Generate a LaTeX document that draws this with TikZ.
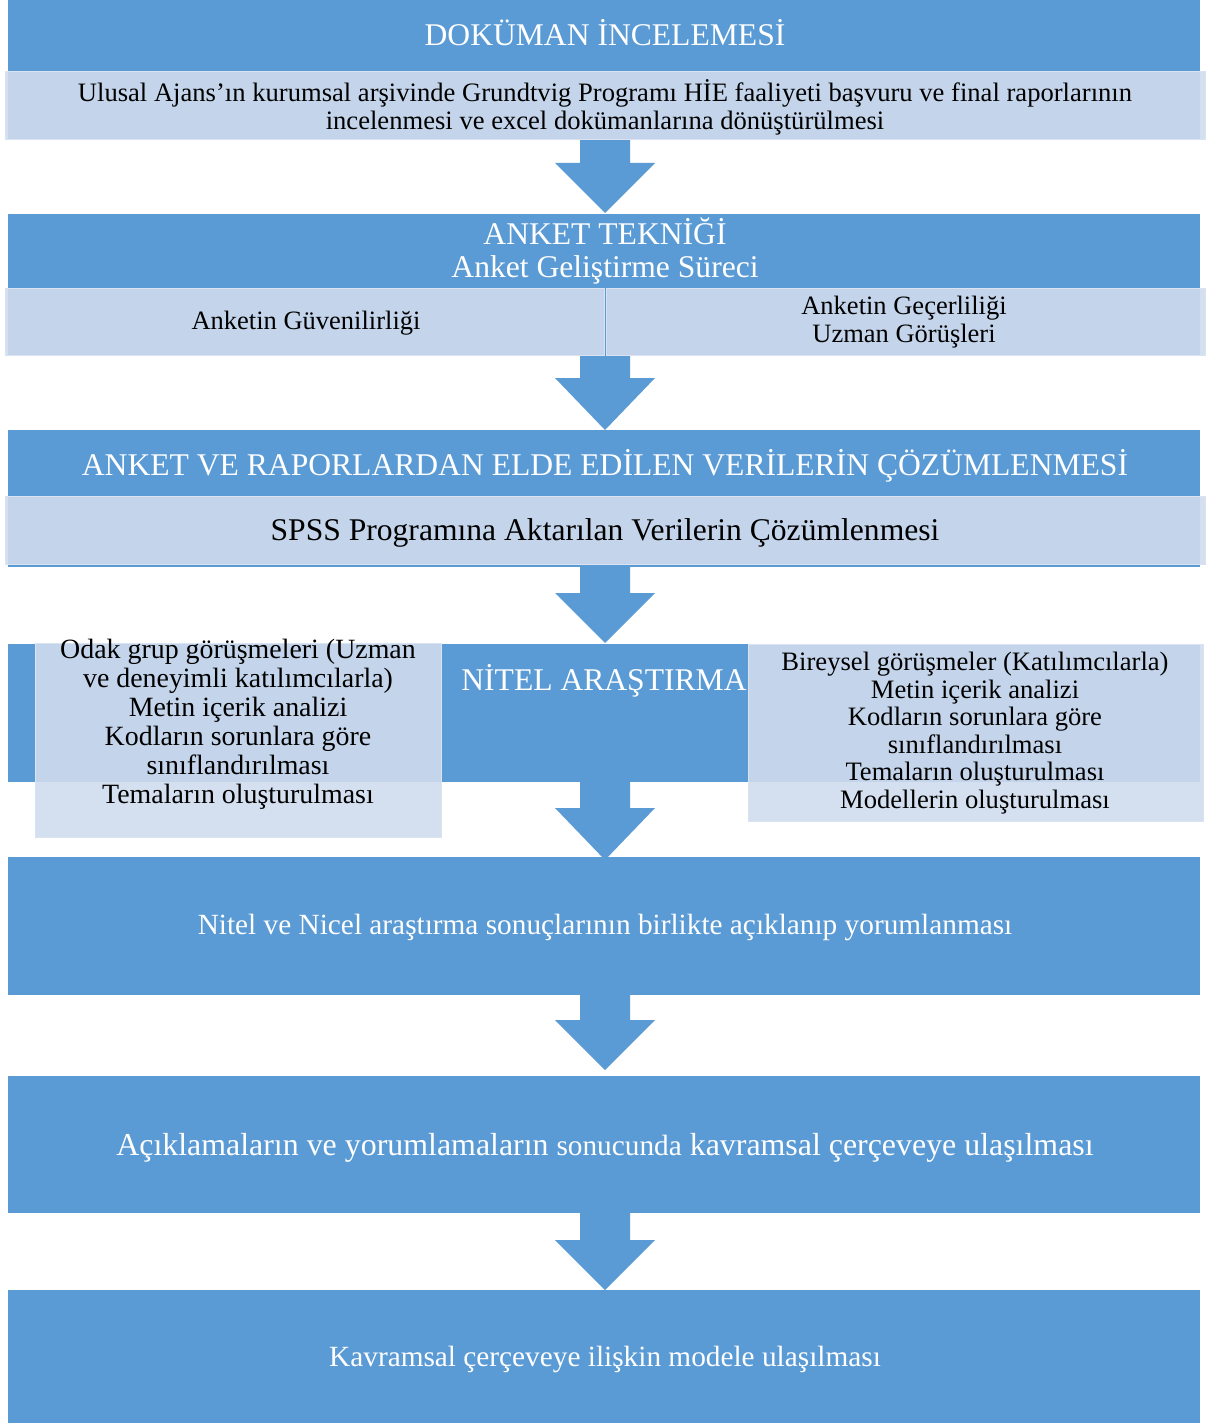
\documentclass[tikz,border=0pt]{standalone}
\usepackage{fontspec}
\setmainfont{Liberation Serif}
\definecolor{dark}{HTML}{5B9BD5}
\definecolor{lightbox}{HTML}{D0DCEE}
\definecolor{boxedge}{HTML}{D9E3F2}
\newcommand\fsz[2]{\fontsize{#1}{#2}\selectfont}
\newcommand\blockarrow[3]{\fill[dark] (580,#1) -- (630,#1) -- (630,#2) -- (655,#2) -- (605,#3) -- (555,#2) -- (580,#2) -- cycle;}
\begin{document}
\begin{tikzpicture}[x=1pt,y=-1pt,
  band/.style={fill=dark, draw=none, inner sep=0, outer sep=0, minimum width=1192pt, anchor=north west},
  lbox/.style={fill=lightbox, fill opacity=0.9, draw=boxedge, line width=1pt, inner sep=0, outer sep=0, anchor=north west},
  wtitle/.style={text=white, inner sep=0, font=\fsz{31.6}{33}},
  wtext/.style={text=white, inner sep=0, font=\fsz{29.3}{31}},
  btext/.style={text=black, inner sep=0, align=center, font=\fsz{26.5}{28}}]
\useasboundingbox (0,0) rectangle (1210,1423);
\fill[white] (0,0) rectangle (1210,1423);
% bands
\node[band, minimum height=140pt] (b1) at (8,0) {};
\node[band, minimum height=141pt] (b2) at (8,214) {};
\node[band, minimum height=137pt] (b3) at (8,430) {};
\node[band, minimum height=138pt] (b4) at (8,644) {};
\node[band, minimum height=138pt] (b5) at (8,857) {};
\node[band, minimum height=137pt] (b6) at (8,1076) {};
\node[band, minimum height=133pt] (b7) at (8,1290) {};
% arrows
\blockarrow{140}{163}{213}
\blockarrow{355}{378}{430}
\blockarrow{567}{593}{643}
\blockarrow{782}{808}{860}
\blockarrow{995}{1020}{1070}
\blockarrow{1213}{1240}{1290}
% light boxes
\node[lbox, minimum width=1200pt, minimum height=68pt] (l1) at (5,72) {};
\node[lbox, minimum width=599pt, minimum height=67pt] (l2a) at (5,288) {};
\node[lbox, minimum width=599pt, minimum height=67pt] (l2b) at (606,288) {};
\node[lbox, minimum width=1200pt, minimum height=68pt] (l3) at (5,496) {};
% texts
\node[wtitle, anchor=base] (t1) at (605,45.5) {DOKÜMAN İNCELEMESİ};
\node[btext, font=\fsz{26.6}{28}] (x1) at (605,107) {Ulusal Ajans’ın kurumsal arşivinde Grundtvig Programı HİE faaliyeti başvuru ve final raporlarının\\incelenmesi ve excel dokümanlarına dönüştürülmesi};
\node[wtitle, align=center] (t2) at (605,250.5) {ANKET TEKNİĞİ\\Anket Geliştirme Süreci};
\node[btext, anchor=base] (x2a) at (306,329) {Anketin Güvenilirliği};
\node[btext] (x2b) at (904,322) {Anketin Geçerliliği\\Uzman Görüşleri};
\node[wtitle, anchor=base] (t3) at (605,475.5) {ANKET VE RAPORLARDAN ELDE EDİLEN VERİLERİN ÇÖZÜMLENMESİ};
\node[btext, anchor=base, font=\fsz{31.6}{33}] (x3) at (605,540.5) {SPSS Programına Aktarılan Verilerin Çözümlenmesi};
\node[wtitle, anchor=base] (t4) at (604,690.5) {NİTEL ARAŞTIRMA};
% side boxes of NITEL
\node[lbox, minimum width=406pt, minimum height=194pt] (l4a) at (35,643) {};
\node[lbox, minimum width=455pt, minimum height=177pt] (l4b) at (748,644) {};
\node[btext, font=\fsz{27.9}{29}] (x4a) at (238,724.5) {Odak grup görüşmeleri (Uzman\\ve deneyimli katılımcılarla)\\Metin içerik analizi\\Kodların sorunlara göre\\sınıflandırılması\\Temaların oluşturulması};
\node[btext, font=\fsz{26.6}{27.6}] (x4b) at (975,733) {Bireysel görüşmeler (Katılımcılarla)\\Metin içerik analizi\\Kodların sorunlara göre\\sınıflandırılması\\Temaların oluşturulması\\Modellerin oluşturulması};
\node[wtext, anchor=base] (t5) at (605,934) {Nitel ve Nicel araştırma sonuçlarının birlikte açıklanıp yorumlanması};
\node[wtext, anchor=base, font=\fsz{31.9}{33}] (t6) at (605,1155) {Açıklamaların ve yorumlamaların {\fsz{29.3}{31}sonucunda} kavramsal çerçeveye ulaşılması};
\node[wtext, anchor=base] (t7) at (605,1366) {Kavramsal çerçeveye ilişkin modele ulaşılması};
\end{tikzpicture}
\end{document}
